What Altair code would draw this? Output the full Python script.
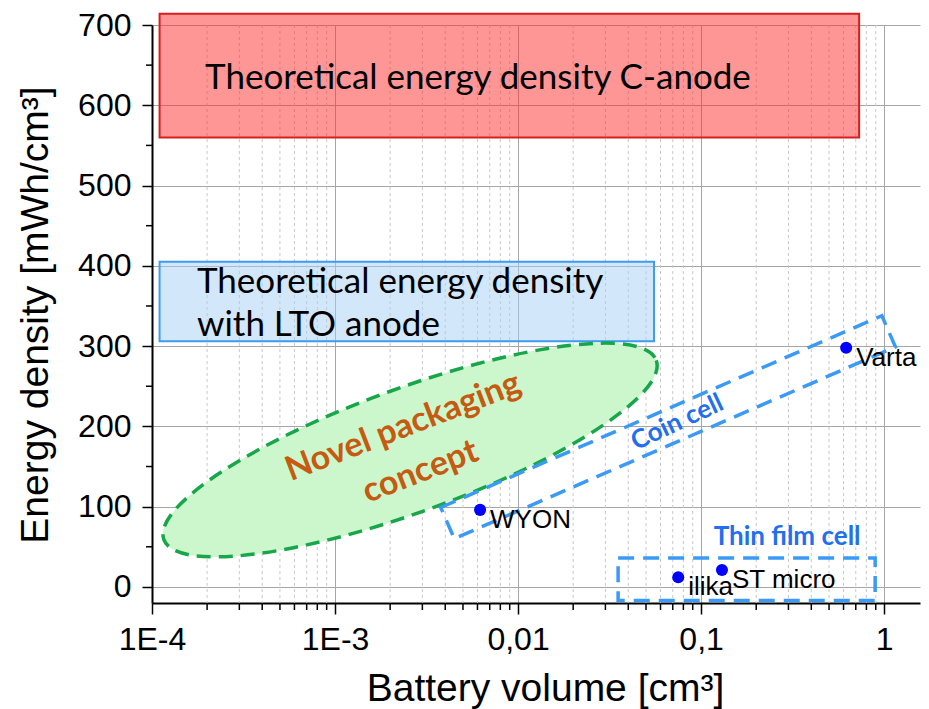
import altair as alt
import pandas as pd

# ---- data ----
cell_names = ["WYON", "Varta", "ilika", "ST micro"]
cell_volume = [0.0062, 0.62, 0.075, 0.13]
cell_energy = [96, 298, 12, 21]

x_major = [1e-4, 1e-3, 1e-2, 1e-1, 1]
x_major_labels = ["1E-4", "1E-3", "0,01", "0,1", "1"]
x_minor = [m * d for d in [1e-4, 1e-3, 1e-2, 1e-1, 1] for m in range(2, 10) if m * d < 1.57]
y_major = [0, 100, 200, 300, 400, 500, 600, 700]
y_minor = [50, 150, 250, 350, 450, 550, 650]

box_names = ["C-anode", "LTO"]
box_x1 = [1.1e-4, 1.1e-4]
box_x2 = [0.73, 0.0553]
box_y1 = [560, 306]
box_y2 = [714, 405]
box_text = ["Theoretical energy density C-anode", "Theoretical energy density\nwith LTO anode"]
box_text_x = [1.95e-4, 1.76e-4]
box_text_y = [634, 380]

thin_x1 = [0.0352]
thin_x2 = [0.893]
thin_y1 = [-17]
thin_y2 = [36]

coin_center_x = [0.066]
coin_center_y = [199]
ellipse_center_x = [0.00257]
ellipse_center_y = [170.6]

label_names = ["Novel packaging\nconcept", "Coin cell", "Thin film cell"]
label_x = [0.00236, 0.074, 0.295]
label_y = [199, 205, 62]

W, H = 768, 578
xs = alt.Scale(type="log", domain=[1e-4, 1.57], nice=False)
ys = alt.Scale(domain=[-20, 700], nice=False, zero=False)

label_expr = " : ".join(
    f"datum.value < {v * 3.16:.6g} ? '{l}'" for v, l in zip(x_major[:-1], x_major_labels[:-1])
) + f" : '{x_major_labels[-1]}'"

FONT = "Liberation Sans"
BOXFONT = "Lato"

x_axis = alt.Axis(values=x_major, labelExpr=label_expr, grid=True, gridColor="#a6a6a6", gridWidth=1,
                  domainColor="black", domainWidth=2, tickColor="black", tickWidth=1.5, tickSize=11,
                  labelFont=FONT, labelFontSize=32, labelColor="black", labelPadding=10,
                  labelFlush=False, labelOverlap=False,
                  title="Battery volume [cm³]", titleFont=FONT, titleFontSize=39, titleFontWeight="normal",
                  titleColor="black", titleX=393, titleY=97, titleBaseline="alphabetic", titleAlign="center")
y_axis = alt.Axis(values=y_major, grid=True, gridColor="#a6a6a6", gridWidth=1,
                  domainColor="black", domainWidth=2, tickColor="black", tickWidth=1.5, tickSize=10,
                  labelFont=FONT, labelFontSize=32, labelColor="black", labelPadding=11,
                  labelFlush=False, labelOverlap=False,
                  title="Energy density [mWh/cm³]", titleFont=FONT, titleFontSize=39, titleFontWeight="normal",
                  titleColor="black", titleAngle=270, titleX=-105, titleY=289.5,
                  titleBaseline="alphabetic", titleAlign="center")


def X(field):
    return alt.X(field, scale=xs, axis=x_axis)


def Y(field):
    return alt.Y(field, scale=ys, axis=y_axis)


df_pts = pd.DataFrame({"name": cell_names, "vol": cell_volume, "e": cell_energy})
df_xminor = pd.DataFrame({"v": x_minor})
df_yminor = pd.DataFrame({"v": y_minor})
df_box = pd.DataFrame({"name": box_names, "x1": box_x1, "x2": box_x2, "y1": box_y1, "y2": box_y2})
df_boxtext = pd.DataFrame({"t": box_text, "x": box_text_x, "y": box_text_y})
df_thin = pd.DataFrame({"x1": thin_x1, "x2": thin_x2, "y1": thin_y1, "y2": thin_y2})
df_coin = pd.DataFrame({"x": coin_center_x, "y": coin_center_y})
df_ell = pd.DataFrame({"x": ellipse_center_x, "y": ellipse_center_y})
df_lab = pd.DataFrame({"t": label_names, "x": label_x, "y": label_y})

minor_grid = alt.Chart(df_xminor).mark_rule(color="#c8c8c8", strokeDash=[3, 3], strokeWidth=1).encode(
    x=X("v:Q"), y=alt.value(0), y2=alt.value(H)
)
minor_xticks = alt.Chart(df_xminor).mark_rule(color="black", strokeWidth=1.5).encode(
    x=X("v:Q"), y=alt.value(H), y2=alt.value(H + 7)
)
minor_yticks = alt.Chart(df_yminor).mark_rule(color="black", strokeWidth=1.5).encode(
    y=Y("v:Q"), x=alt.value(-6), x2=alt.value(0)
)

boxes = alt.Chart(df_box).mark_rect(strokeWidth=2).encode(
    x=X("x1:Q"), x2="x2:Q",
    y=Y("y1:Q"), y2="y2:Q",
    fill=alt.Fill("name:N", scale=alt.Scale(domain=box_names, range=["#ff2e2e", "#a8d0f8"]), legend=None),
    stroke=alt.Stroke("name:N", scale=alt.Scale(domain=box_names, range=["#d81e1e", "#3d9bf0"]), legend=None),
    fillOpacity=alt.value(0.5),
)
box_labels = alt.Chart(df_boxtext).mark_text(align="left", baseline="middle", font=BOXFONT, fontSize=35,
                                             color="black", lineBreak="\n", lineHeight=43).encode(
    x=X("x:Q"), y=Y("y:Q"), text="t:N"
)

# ellipse (custom symbol path, unit box)
a_px, b_px = 262, 62
r = b_px / a_px
k = 0.5523
ell_path = (f"M 1 0 C 1 {k*r:.4f} {k:.4f} {r:.4f} 0 {r:.4f} "
            f"C {-k:.4f} {r:.4f} -1 {k*r:.4f} -1 0 "
            f"C -1 {-k*r:.4f} {-k:.4f} {-r:.4f} 0 {-r:.4f} "
            f"C {k:.4f} {-r:.4f} 1 {-k*r:.4f} 1 0 Z")
ellipse = alt.Chart(df_ell).mark_point(shape=ell_path, size=4 * a_px ** 2, angle=340, filled=False,
                                       fill="#ccf7cc", fillOpacity=1, stroke="#17a64a", strokeWidth=3.5,
                                       strokeDash=[14, 8], opacity=1).encode(
    x=X("x:Q"), y=Y("y:Q")
)
ell_text = alt.Chart(df_lab.iloc[[0]]).mark_text(lineBreak="\n", lineHeight=48,
                                                 angle=339, font=BOXFONT, fontSize=34, fontWeight="bold",
                                                 color="#c55a11", align="center", baseline="middle").encode(
    x=X("x:Q"), y=Y("y:Q"), text="t:N"
)

# coin cell rotated dashed rectangle
c_half_len, c_half_w = 240.5, 17
cr = c_half_w / c_half_len
coin_path = f"M -1 {-cr:.4f} L 1 {-cr:.4f} L 1 {cr:.4f} L -1 {cr:.4f} Z"
coin = alt.Chart(df_coin).mark_point(shape=coin_path, size=4 * c_half_len ** 2, angle=336.5, filled=False,
                                     stroke="#3a9af5", strokeWidth=3.5, strokeDash=[16, 9], opacity=1).encode(
    x=X("x:Q"), y=Y("y:Q")
)
coin_text = alt.Chart(df_lab.iloc[[1]]).mark_text(
    angle=335, font=BOXFONT, fontSize=26, fontWeight="bold", color="#1f6fef",
    align="center", baseline="middle").encode(
    x=X("x:Q"), y=Y("y:Q"), text="t:N"
)

thin = alt.Chart(df_thin).mark_rect(fillOpacity=0, stroke="#3a9af5", strokeWidth=3.5, strokeDash=[16, 9]).encode(
    x=X("x1:Q"), x2="x2:Q",
    y=Y("y1:Q"), y2="y2:Q",
)
thin_text = alt.Chart(df_lab.iloc[[2]]).mark_text(
    font=BOXFONT, fontSize=26, fontWeight="bold", color="#1f6fef",
    align="center", baseline="middle").encode(
    x=X("x:Q"), y=Y("y:Q"), text="t:N"
)

points = alt.Chart(df_pts).mark_circle(size=145, color="#0000ff", opacity=1).encode(
    x=X("vol:Q"), y=Y("e:Q")
)
point_labels = alt.Chart(df_pts).mark_text(align="left", baseline="middle", dx=10, dy=10, font=FONT,
                                           fontSize=26, color="black").encode(
    x=X("vol:Q"), y=Y("e:Q"), text="name:N"
)

chart = alt.layer(
    minor_grid, boxes, box_labels, ellipse, ell_text, coin, coin_text, thin, thin_text,
    points, point_labels, minor_xticks, minor_yticks
).properties(
    width=W, height=H,
    padding={"left": 144, "top": 17, "right": 1, "bottom": 106},
    autosize=alt.AutoSizeParams(type="none"),
).configure_view(stroke="transparent")

chart.save("out.html", embed_options={"renderer": "svg", "actions": False})
